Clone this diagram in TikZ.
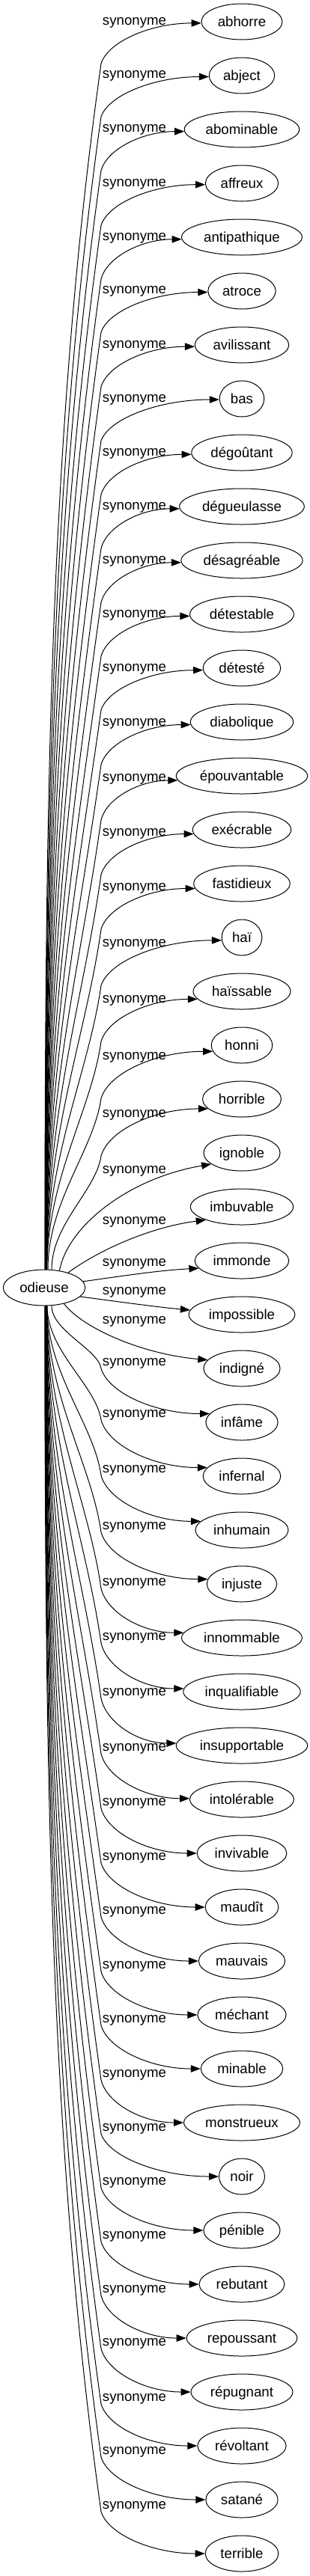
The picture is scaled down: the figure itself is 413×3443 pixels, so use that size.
\documentclass[tikz,border=0pt]{standalone}
\usepackage{fontspec}
\setmainfont{Liberation Sans}
\usetikzlibrary{arrows.meta,shapes.geometric,calc}
\begin{document}
\begin{tikzpicture}[x=1pt,y=1pt,
  every node/.style={font=\fontsize{18.67}{22}\selectfont},
  syn/.style={draw, ellipse, line width=1pt, inner xsep=6pt, inner ysep=0pt, minimum height=48pt, text height=15pt, text depth=3pt},
  lab/.style={anchor=base, inner sep=0pt},
  edge/.style={draw, line width=1pt, -{Triangle[length=13pt,width=9.5pt]}}]
\fill[white] (0,0) rectangle (413,-3443);
\useasboundingbox (0,0) rectangle (413,-3443);
\node[syn] (o) at (59,-1721) {odieuse};
\foreach \i/\w/\L in {0/abhorre/30, 1/abject/101, 2/abominable/173, 3/affreux/246,
  4/antipathique/318, 5/atroce/389, 6/avilissant/462, 7/bas/534, 8/dégoûtant/606,
  9/dégueulasse/678, 10/désagréable/750, 11/détestable/822, 12/détesté/894,
  13/diabolique/967, 14/épouvantable/1041, 15/exécrable/1114, 16/fastidieux/1187,
  17/haï/1262, 18/haïssable/1337, 19/honni/1413, 20/horrible/1490, 21/ignoble/1565,
  22/imbuvable/1633, 23/immonde/1689, 24/impossible/1727, 25/indigné/1766,
  26/infâme/1822, 27/infernal/1891, 28/inhumain/1965, 29/injuste/2041,
  30/innommable/2116, 31/inqualifiable/2189, 32/insupportable/2263,
  33/intolérable/2337, 34/invivable/2410, 35/maudît/2483, 36/mauvais/2555,
  37/méchant/2628, 38/minable/2700, 39/monstrueux/2773, 40/noir/2845,
  41/pénible/2917, 42/rebutant/2989, 43/repoussant/3061, 44/répugnant/3132,
  45/révoltant/3206, 46/satané/3277, 47/terrible/3350} {
  \pgfmathsetmacro\myN{-(29+72*\i)}
  \node[syn] (t\i) at (323,\myN) {\w};
  \node[lab] (l\i) at (179.5,{-(\L+3)}) {synonyme};
}
% upper edges
\foreach \i/\L/\a/\dx in {0/30/182/1.0, 1/101/182/1.2, 2/173/182/1.3, 3/246/182/1.5,
  4/318/182/1.6, 5/389/182/1.8, 6/462/182/1.9, 7/534/182/2.1, 8/606/182/2.2,
  9/678/182/2.4, 10/750/182/2.5, 11/822/182/2.7, 12/894/183/2.8, 13/967/183/3.0,
  14/1041/184/3.1, 15/1114/185/3.3, 16/1187/186/3.4, 17/1262/188/3.6,
  18/1337/190/3.8, 19/1413/192/5, 20/1490/196/10} {
  \pgfmathsetmacro\myWy{-(\L+55)}
  \pgfmathsetmacro\myD{1697+\myWy}
  \pgfmathsetmacro\myCay{-1697+0.4*\myD}
  \pgfmathsetmacro\myCbx{135-0.042*\myD}
  \pgfmathsetmacro\myCby{\myWy-0.3*\myD}
  \draw[edge] let \p1=(t\i.\a), \p2=(135,\myWy), \p3=([xshift=\dx pt]o.north) in
    (\p3) .. controls (\x3,\myCay) and (\myCbx,\myCby) .. (\p2)
    .. controls ({\x2+0.07*(\x1-\x2)},{\y2+0.55*(\y1-\y2)}) and ({\x2+0.5*(\x1-\x2)},\y1) .. (\p1);
}
% middle edges
\draw[edge] (o.48) .. controls (90,-1640) and (170,-1575) .. (t21.200);
\draw[edge] (o.32) .. controls (130,-1672) and (200,-1640) .. (t22.200);
\draw[edge] (o.9) .. controls (160,-1706) and (210,-1698) .. (t23.190);
\draw[edge] (o.346) .. controls (160,-1740) and (210,-1747) .. (t24.175);
\draw[edge] (o.321) .. controls (110,-1775) and (190,-1810) .. (t25.166);
% lower edges
\foreach \i/\L/\a/\dx in {26/1822/165/10, 27/1891/166/4.0, 28/1965/168/3.8,
  29/2041/172/3.6, 30/2116/175/3.4, 31/2189/177/3.3, 32/2263/178/3.1,
  33/2337/179/3.0, 34/2410/180/2.8, 35/2483/180/2.7, 36/2555/180/2.5,
  37/2628/180/2.4, 38/2700/180/2.2, 39/2773/180/2.1, 40/2845/180/1.9,
  41/2917/180/1.8, 42/2989/180/1.6, 43/3061/180/1.5, 44/3132/180/1.3,
  45/3206/180/1.2, 46/3277/180/1.0, 47/3350/180/1.0} {
  \pgfmathsetmacro\myWy{-(\L+7)}
  \pgfmathsetmacro\myD{-1745-\myWy}
  \pgfmathsetmacro\myCay{-1745-0.4*\myD}
  \pgfmathsetmacro\myCbx{135-0.042*\myD}
  \pgfmathsetmacro\myCby{\myWy+0.3*\myD}
  \draw[edge] let \p1=(t\i.\a), \p2=(135,\myWy), \p3=([xshift=\dx pt]o.south) in
    (\p3) .. controls (\x3,\myCay) and (\myCbx,\myCby) .. (\p2)
    .. controls ({\x2+0.07*(\x1-\x2)},{\y2+0.55*(\y1-\y2)}) and ({\x2+0.5*(\x1-\x2)},\y1) .. (\p1);
}
\end{tikzpicture}
\end{document}
